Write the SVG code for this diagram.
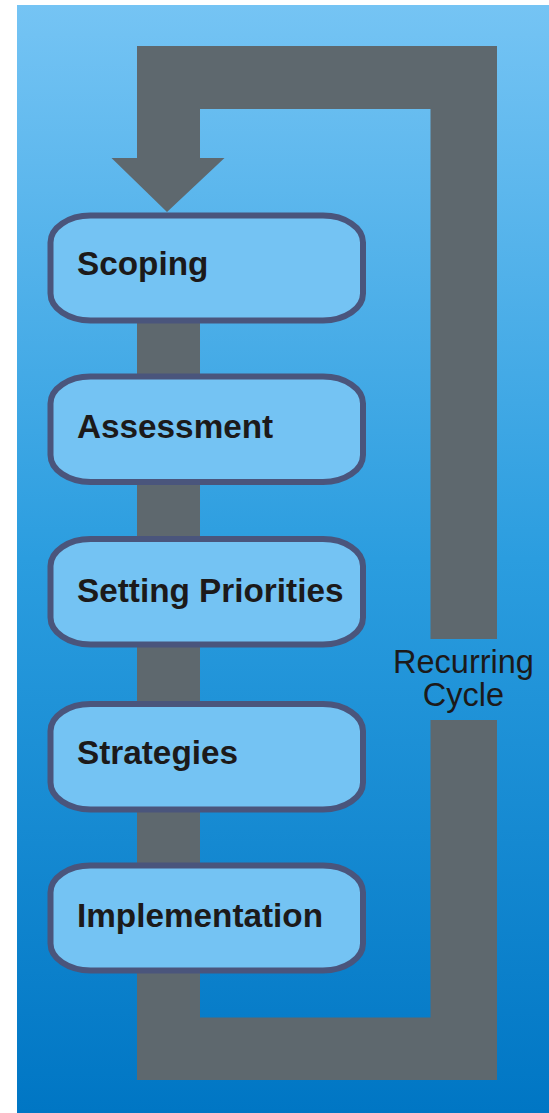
<svg xmlns="http://www.w3.org/2000/svg" width="549" height="1113" viewBox="0 0 549 1113">
  <defs>
    <linearGradient id="bg" x1="0" y1="0" x2="0" y2="1">
      <stop offset="0" stop-color="#75C4F4"/>
      <stop offset="0.5" stop-color="#2B9DDF"/>
      <stop offset="1" stop-color="#0076C4"/>
    </linearGradient>
  </defs>
  <style>
    .box { fill: #74C3F3; stroke: #4A557C; stroke-width: 6; }
    .lbl { font-family: "Liberation Sans", Arial, sans-serif; font-weight: bold; font-size: 33.3px; fill: #1C1A1A; }
    .cyc { font-family: "Liberation Sans", Arial, sans-serif; font-size: 32.5px; fill: #1C1A1A; text-anchor: middle; }
    .arrow { fill: #5E686E; }
  </style>
  <rect x="0" y="0" width="549" height="1113" fill="#FFFFFF"/>
  <rect x="17" y="5" width="532" height="1108" fill="url(#bg)"/>

  <g id="connectors">
    <path class="arrow" d="M497,639 L497,46 L137,46 L137,158 L111.5,158 L167,212 L224.5,158 L200,158 L200,109 L430.5,109 L430.5,639 Z"/>
    <path class="arrow" d="M430.5,720 L430.5,1017.5 L200,1017.5 L200,260 L137,260 L137,1080 L497,1080 L497,720 Z"/>
  </g>

  <g id="node-scoping">
    <rect class="box" x="50.5" y="215.5" width="312.5" height="105" rx="40" ry="27"/>
    <text class="lbl" x="77" y="275">Scoping</text>
  </g>
  <g id="node-assessment">
    <rect class="box" x="50.5" y="376.5" width="312.5" height="105.5" rx="40" ry="27"/>
    <text class="lbl" x="77" y="438">Assessment</text>
  </g>
  <g id="node-setting-priorities">
    <rect class="box" x="50.5" y="539" width="312.5" height="105.5" rx="40" ry="27"/>
    <text class="lbl" x="77" y="602">Setting Priorities</text>
  </g>
  <g id="node-strategies">
    <rect class="box" x="50.5" y="704" width="312.5" height="105.5" rx="40" ry="27"/>
    <text class="lbl" x="77" y="764">Strategies</text>
  </g>
  <g id="node-implementation">
    <rect class="box" x="50.5" y="865.5" width="312.5" height="105" rx="40" ry="27"/>
    <text class="lbl" x="77" y="926.5">Implementation</text>
  </g>

  <g id="label-recurring-cycle">
    <text class="cyc" x="463.5" y="673">Recurring</text>
    <text class="cyc" x="463.5" y="705.5">Cycle</text>
  </g>
</svg>
